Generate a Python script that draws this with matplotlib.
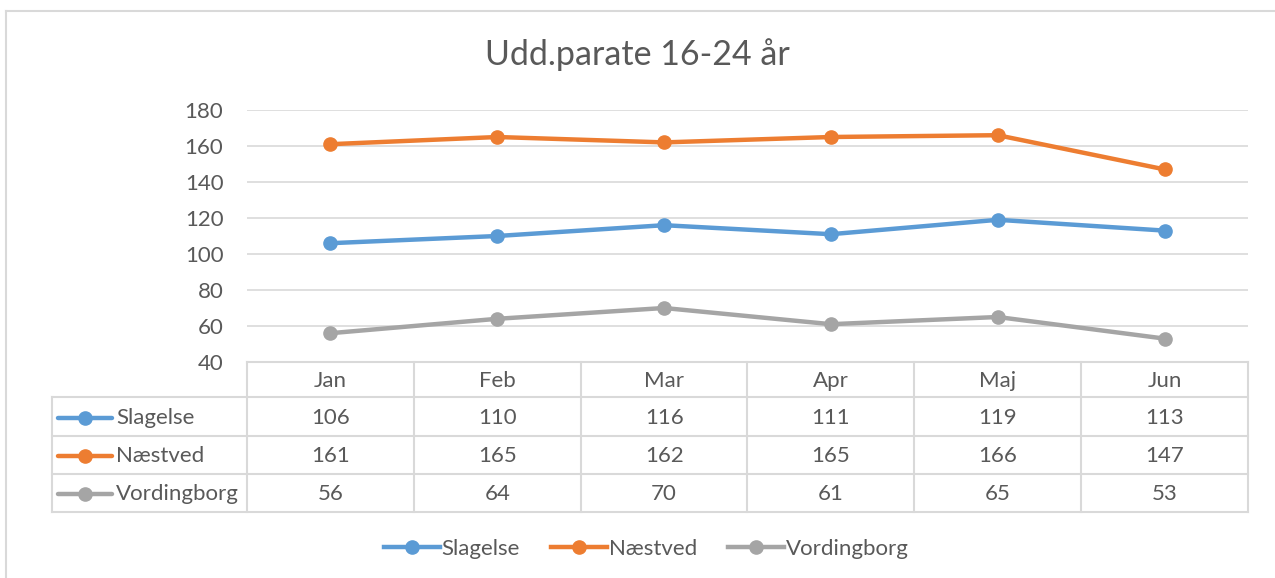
import matplotlib.pyplot as plt
from matplotlib.lines import Line2D

plt.rcParams["font.family"] = ["Lato", "DejaVu Sans"]

months = ["Jan", "Feb", "Mar", "Apr", "Maj", "Jun"]
slagelse = [106, 110, 116, 111, 119, 113]
naestved = [161, 165, 162, 165, 166, 147]
vordingborg = [56, 64, 70, 61, 65, 53]

series = [
    ("Slagelse", slagelse, "#5B9BD5"),
    ("Næstved", naestved, "#ED7D31"),
    ("Vordingborg", vordingborg, "#A5A5A5"),
]

TXT = "#595959"
GRID = "#D9D9D9"
W, H = 1275, 578
FS = 16

fig = plt.figure(figsize=(W / 100, H / 100), dpi=100)
# plot area in pixels: x 247..1248, y 110..362
ax = fig.add_axes([247 / W, 1 - 362 / H, (1248 - 247) / W, (362 - 110) / H])

x = list(range(len(months)))
for name, vals, col in series:
    ax.plot(x, vals, color=col, lw=3.2, marker="o", ms=9.5, label=name,
            solid_capstyle="round")

ax.set_xlim(-0.5, len(months) - 0.5)
ax.set_ylim(40, 180)
ax.set_yticks(range(40, 181, 20))
ax.yaxis.grid(True, color=GRID, lw=1.2)
ax.set_axisbelow(True)
for s in ax.spines.values():
    s.set_visible(False)
ax.tick_params(axis="y", length=0, pad=17, labelsize=FS, labelcolor=TXT)
ax.set_xticks([])

# data table below the plot
px = (1248 - 247) / 6.0
tr = ax.get_xaxis_transform()


def ax_y(py):
    return (362 - py) / 252.0


def ax_x(pxl):
    return -0.5 + (pxl - 247) / px


rows = [362, 397, 436, 474, 512]
kw = dict(transform=tr, clip_on=False, color=GRID, lw=1.5)
left = ax_x(52)
ax.plot([-0.5, 5.5], [ax_y(362)] * 2, **kw)
for r in rows[1:]:
    ax.plot([left, 5.5], [ax_y(r)] * 2, **kw)
ax.plot([left, left], [ax_y(397), ax_y(512)], **kw)
for i in range(len(months) + 1):
    ax.plot([i - 0.5, i - 0.5], [ax_y(362), ax_y(512)], **kw)

for i, m in enumerate(months):
    ax.text(i, ax_y((362 + 397) / 2 + 1.5), m, transform=tr, ha="center",
            va="center", fontsize=FS, color=TXT)
for k, (name, vals, col) in enumerate(series):
    yc = ax_y((rows[k + 1] + rows[k + 2]) / 2 + 1)
    for i, v in enumerate(vals):
        ax.text(i, yc, str(v), transform=tr, ha="center", va="center",
                fontsize=FS, color=TXT)
    ax.plot([ax_x(58), ax_x(112)], [yc, yc], transform=tr, clip_on=False,
            color=col, lw=3.2, solid_capstyle="round")
    ax.plot([ax_x(85)], [yc], transform=tr, clip_on=False, color=col,
            marker="o", ms=9.5)
    ax.text(ax_x(116), yc, name, transform=tr, ha="left", va="center",
            fontsize=FS, color=TXT)

fig.text(0.5, 1 - 55 / H, "Udd.parate 16-24 år", ha="center", va="center",
         fontsize=24.5, color=TXT)

handles = [Line2D([], [], color=c, lw=3.2, marker="o", ms=9.5) for _, _, c in series]
fig.legend(handles, [n for n, _, _ in series], loc="center",
           bbox_to_anchor=(0.5 + 9 / W, 1 - 549 / H), ncol=3, frameon=False,
           fontsize=FS, labelcolor=TXT, handlelength=2.5, handletextpad=0.1,
           columnspacing=1.4)

# outer chart frame (left and top edges visible)
fig.add_artist(Line2D([6 / W, 6 / W], [0, 1 - 11 / H], color=GRID, lw=1.5))
fig.add_artist(Line2D([6 / W, 1], [1 - 11 / H, 1 - 11 / H], color=GRID, lw=1.5))

fig.savefig("out.png", dpi=100)
